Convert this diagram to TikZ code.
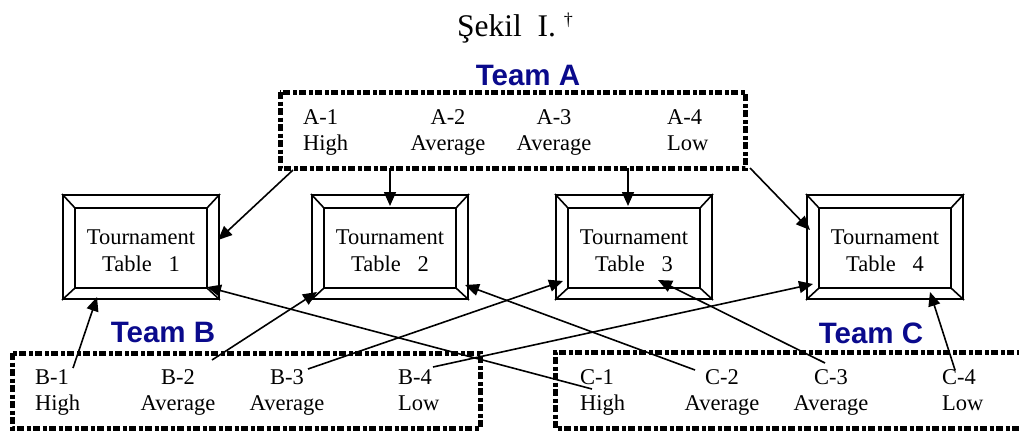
\documentclass[tikz,border=0pt]{standalone}
\usepackage{fontspec}
\setmainfont{Liberation Serif}
\newfontfamily\teamfont{Liberation Sans}
\usetikzlibrary{arrows.meta}
\definecolor{teamblue}{RGB}{10,10,140}
\begin{document}
\begin{tikzpicture}[x=1pt,y=-1pt,
 teambox/.style={line width=5pt, dash pattern=on 7pt off 2.5pt on 4pt off 2.5pt},
 teamlabel/.style={font=\teamfont\bfseries\fontsize{29.5}{30}\selectfont, text=teamblue, inner sep=0, anchor=base},
 member/.style={font=\fontsize{22.5}{26}\selectfont, inner sep=0, align=left, anchor=north west},
 memberc/.style={member, align=center, anchor=north},
 tbl/.style={draw, line width=2pt, minimum width=156pt, minimum height=104pt, inner sep=0, align=center, font=\fontsize{22.5}{27}\selectfont},
 bev/.style={line width=1.6pt},
 conn/.style={line width=1.6pt, -{Triangle[length=14pt,width=12pt]}}]
\useasboundingbox (0,0) rectangle (1019,434);

% title
\node[inner sep=0, anchor=base west, font=\fontsize{31.5}{31.5}\selectfont] (title) at (457,36) {Şekil\ \ I.\ \raisebox{11pt}{\fontsize{18}{18}\selectfont †}};

% team boxes
\draw[teambox] (280,92) rectangle (745,168);
\draw[teambox] (12,353) rectangle (480,428);
\draw[teambox] (1030,352) -- (555,352) -- (555,428) -- (1030,428);

% team labels
\node[teamlabel] (teamA) at (528,85) {Team A};
\node[teamlabel] (teamB) at (163,342) {Team B};
\node[teamlabel] (teamC) at (871,343) {Team C};

% members
\node[member]  (A1) at (303,109) {A-1\\High};
\node[memberc] (A2) at (448,109) {A-2\\Average};
\node[memberc] (A3) at (554,109) {A-3\\Average};
\node[member]  (A4) at (667,109) {A-4\\Low};

\node[member]  (B1) at (35,369) {B-1\\High};
\node[memberc] (B2) at (178,369) {B-2\\Average};
\node[memberc] (B3) at (287,369) {B-3\\Average};
\node[member]  (B4) at (398,369) {B-4\\Low};

\node[member]  (C1) at (580,369) {C-1\\High};
\node[memberc] (C2) at (722,369) {C-2\\Average};
\node[memberc] (C3) at (831,369) {C-3\\Average};
\node[member]  (C4) at (942,369) {C-4\\Low};

% tables
\node[tbl] (T1) at (141,247) {\rule{0pt}{23pt}Tournament\\Table\ \ \ 1};
\node[tbl] (T2) at (390,247) {\rule{0pt}{23pt}Tournament\\Table\ \ \ 2};
\node[tbl] (T3) at (634,247) {\rule{0pt}{23pt}Tournament\\Table\ \ \ 3};
\node[tbl] (T4) at (885,247) {\rule{0pt}{23pt}Tournament\\Table\ \ \ 4};
\foreach \t in {T1,T2,T3,T4}{
  \draw[bev] ([xshift=13pt,yshift=-14pt]\t.north west) rectangle ([xshift=-13pt,yshift=12pt]\t.south east);
  \draw[bev] (\t.north west) -- ([xshift=13pt,yshift=-14pt]\t.north west);
  \draw[bev] (\t.north east) -- ([xshift=-13pt,yshift=-14pt]\t.north east);
  \draw[bev] (\t.south west) -- ([xshift=13pt,yshift=12pt]\t.south west);
  \draw[bev] (\t.south east) -- ([xshift=-13pt,yshift=12pt]\t.south east);
}

% connector end points
\coordinate (sA1) at (293,170);
\coordinate (sA2) at (390,168);
\coordinate (sA3) at (628,168);
\coordinate (sA4) at (750,168);
\coordinate (sB1) at (73,368);
\coordinate (sB2) at (212,360);
\coordinate (sB3) at (308,369);
\coordinate (sB4) at (433,367);
\coordinate (sC1) at (592,389);
\coordinate (sC2) at (695,370);
\coordinate (sC3) at (825,363);
\coordinate (sC4) at (955,370);

\coordinate (eA1) at (218,240);
\coordinate (eA2) at (390,206);
\coordinate (eA3) at (628,206);
\coordinate (eA4) at (810,230);
\coordinate (eB1) at (97,297);
\coordinate (eB2) at (317,292);
\coordinate (eB3) at (563,281);
\coordinate (eB4) at (813,284);
\coordinate (eC1) at (207,287);
\coordinate (eC2) at (465,285);
\coordinate (eC3) at (658,280);
\coordinate (eC4) at (930,292);

\foreach \m in {A1,A2,A3,A4,B1,B2,B3,B4,C1,C2,C3,C4}{
  \draw[conn] (s\m) -- (e\m);
}
\end{tikzpicture}
\end{document}
